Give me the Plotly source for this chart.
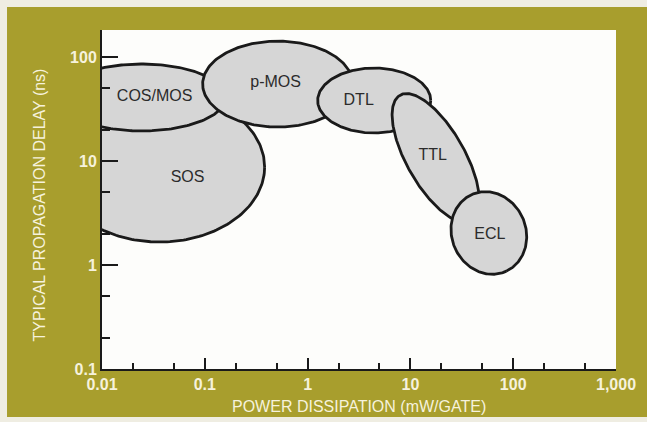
import numpy as np
import plotly.graph_objects as go

# Logic families: operating region on a delay vs. power plane.
# Centres are given as decades (log10 of mW and ns), spreads in decades,
# tilt in degrees (counter-clockwise in log-log space).
families = ["SOS", "COS/MOS", "p-MOS", "DTL", "TTL", "ECL"]
center_power_dec = [-1.44, -1.615, -0.291, 0.648, 1.247, 1.763]
center_delay_dec = [0.942, 1.611, 1.740, 1.582, 1.029, 0.308]
spread_power_dec = [1.022, 0.818, 0.730, 0.550, 0.697, 0.405]
spread_delay_dec = [0.721, 0.322, 0.413, 0.3125, 0.281, 0.360]
tilt_deg = [0, 0, 0, 0, -60, -65]

# Where each family name is printed (mW, ns)
label_power = [0.068, 0.0325, 0.489, 3.14, 16.5, 59.3]
label_delay = [6.87, 41.2, 56.0, 37.8, 11.2, 1.94]

x_major = [0.01, 0.1, 1, 10, 100, 1000]
x_major_text = ["0.01", "0.1", "1", "10", "100", "1,000"]
x_minor = [0.02, 0.05, 0.2, 0.5, 2, 5, 20, 50, 200, 500]
y_major = [0.1, 1, 10, 100]
y_major_text = ["0.1", "1", "10", "100"]
y_minor = [0.2, 0.5, 2, 5, 20, 50]

OLIVE = "#a89e2d"
CREAM = "#f6f2dc"
FONT = "Liberation Sans, Arial, sans-serif"


def ellipse_outline(cx, cy, a, b, tilt, n=240):
    t = np.linspace(0, 2 * np.pi, n)
    ex, ey = a * np.cos(t), b * np.sin(t)
    th = np.radians(tilt)
    xr = ex * np.cos(th) - ey * np.sin(th)
    yr = ex * np.sin(th) + ey * np.cos(th)
    return 10 ** (cx + xr), 10 ** (cy + yr)


fig = go.Figure()

for i, name in enumerate(families):
    xs, ys = ellipse_outline(center_power_dec[i], center_delay_dec[i],
                             spread_power_dec[i], spread_delay_dec[i], tilt_deg[i])
    fig.add_trace(go.Scatter(
        x=xs, y=ys, mode="lines", fill="toself",
        fillcolor="#d6d6d6", line=dict(color="#1a1a1a", width=2.8),
        name=name, showlegend=False, hoverinfo="skip",
    ))

fig.add_trace(go.Scatter(
    x=label_power, y=label_delay, mode="text", text=families,
    textfont=dict(family=FONT, size=16, color="#2b2b2b"),
    showlegend=False, hoverinfo="skip",
))

axis_font = dict(family=FONT, size=16, color=CREAM, weight="bold")

fig.update_xaxes(
    type="log", range=[-2, 3], automargin=False,
    tickvals=x_major, ticktext=x_major_text,
    ticks="inside", ticklen=11, tickwidth=1.5, tickcolor="#1a1a1a",
    showline=True, linecolor="#1a1a1a", linewidth=2,
    showgrid=False, zeroline=False, tickfont=axis_font,
    minor=dict(tickvals=x_minor, ticks="inside", ticklen=6,
               tickwidth=1.5, tickcolor="#1a1a1a", showgrid=False),
)
fig.update_yaxes(
    type="log", range=[-1, 2.26], automargin=False,
    tickvals=y_major, ticktext=y_major_text,
    ticks="inside", ticklen=16, tickwidth=1.5, tickcolor="#1a1a1a",
    showline=True, linecolor="#1a1a1a", linewidth=2,
    showgrid=False, zeroline=False, tickfont=axis_font,
    minor=dict(tickvals=y_minor, ticks="inside", ticklen=8,
               tickwidth=1.5, tickcolor="#1a1a1a", showgrid=False),
)

title_font = dict(family=FONT, size=16, color=CREAM)
fig.add_annotation(
    text="POWER DISSIPATION (mW/GATE)", xref="paper", yref="paper",
    x=0.5, y=0, xanchor="center", yanchor="middle", yshift=-37,
    showarrow=False, font=title_font,
)
fig.add_annotation(
    text="TYPICAL PROPAGATION DELAY (ns)", xref="paper", yref="paper",
    x=0, y=0.5, xanchor="center", yanchor="middle", xshift=-63, yshift=-6,
    textangle=-90, showarrow=False, font=title_font,
)

# pale page edge around the olive panel
edge = "#efede2"
fig.add_shape(type="rect", xref="paper", yref="paper", x0=-0.3, x1=1.2,
              y0=1.0678, y1=1.3, fillcolor=edge, line_width=0, layer="below")
fig.add_shape(type="rect", xref="paper", yref="paper", x0=-0.3, x1=-0.1848,
              y0=-0.3, y1=1.3, fillcolor=edge, line_width=0, layer="below")
fig.add_shape(type="rect", xref="paper", yref="paper", x0=-0.3, x1=1.2,
              y0=-0.3, y1=-0.1416, fillcolor=edge, line_width=0, layer="below")

fig.update_layout(
    width=647, height=422,
    margin=dict(l=102, r=31, t=30, b=53),
    paper_bgcolor=OLIVE, plot_bgcolor="#fdfdfb",
    showlegend=False,
)

fig.write_html("out.html")
